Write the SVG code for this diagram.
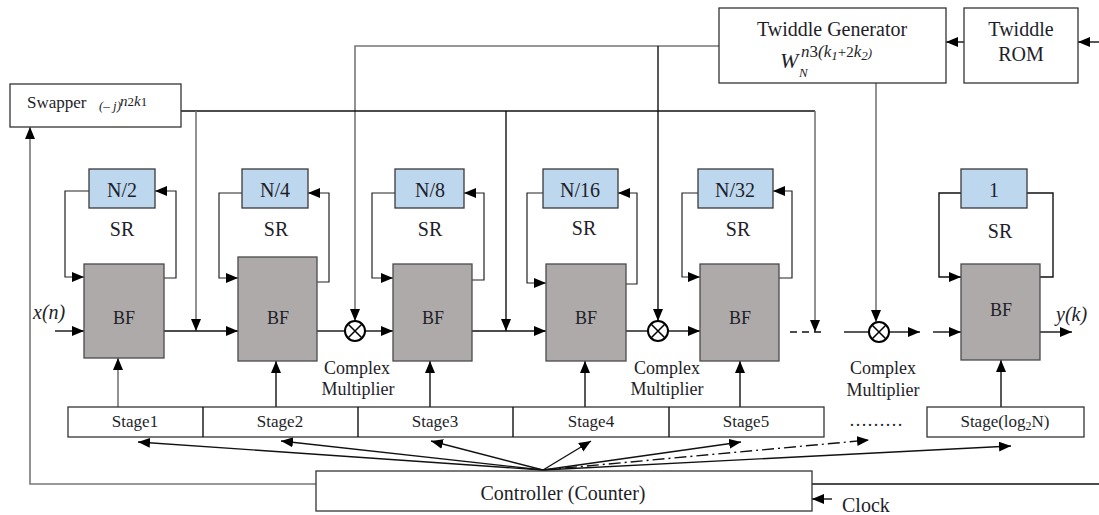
<svg xmlns="http://www.w3.org/2000/svg" width="1099" height="515" viewBox="0 0 1099 515">
<style>
text{font-family:"Liberation Serif","Times New Roman",serif;fill:#1e1e28}
.box{fill:#fff;stroke:#333;stroke-width:1.3}
.sr{fill:#bdd7ee;stroke:#3a3a3a;stroke-width:1.3}
.bf{fill:#aeaaaa;stroke:#4a4a4a;stroke-width:1.3}
.ln{fill:none;stroke:#111;stroke-width:1.4}
.gl{fill:none;stroke:#777;stroke-width:1.6}
.lp{fill:none;stroke:#222;stroke-width:1.2}
.ar{marker-end:url(#ah)}
.t20{font-size:20px}
.t18{font-size:18px}
.t16{font-size:17px}
.it{font-style:italic}
.mul{fill:#fff;stroke:#000;stroke-width:2}
</style>
<defs>
<marker id="ah" markerUnits="userSpaceOnUse" markerWidth="13" markerHeight="11" refX="12" refY="5" orient="auto">
<path d="M0,0 L12,5 L0,10 z" fill="#000"/>
</marker>
</defs>

<g id="connectors">
<line class="ln ar" x1="1099" y1="42" x2="1078" y2="42"/>
<line class="ln ar" x1="964" y1="42" x2="946" y2="42"/>
<polyline class="gl ar" points="719,46 355,46 355,321"/>
<polyline class="ln ar" points="658,46 658,321"/>
<line class="gl ar" x1="876" y1="83" x2="876" y2="322"/>
<polyline class="ln" points="181,111 815,111"/>
<line class="gl ar" x1="196" y1="111" x2="196" y2="331"/>
<line class="ln ar" x1="506" y1="111" x2="506" y2="331"/>
<line class="gl ar" x1="815" y1="111" x2="815" y2="332"/>
<line class="ln ar" x1="55" y1="331" x2="84" y2="331"/>
<line class="ln ar" x1="164" y1="331" x2="238" y2="331"/>
<line class="ln" x1="317" y1="331" x2="345" y2="331"/>
<line class="ln ar" x1="365" y1="331" x2="393" y2="331"/>
<line class="ln ar" x1="472" y1="331" x2="546" y2="331"/>
<line class="ln" x1="626" y1="331" x2="648" y2="331"/>
<line class="ln ar" x1="668" y1="331" x2="700" y2="331"/>
<line class="ln" x1="790" y1="332" x2="826" y2="332" stroke-dasharray="7,5"/>
<line class="ln" x1="844" y1="332" x2="869" y2="332"/>
<line class="ln ar" x1="889" y1="332" x2="920" y2="332"/>
<line class="ln ar" x1="933" y1="332" x2="961" y2="332" stroke-width="1"/>
<line class="ln ar" x1="1040" y1="332" x2="1072" y2="332" stroke-width="1"/>
<polyline class="lp ar" points="89,191 65,191 65,277 84,277"/>
<polyline class="lp ar" points="164,278 176,278 176,191 155,191"/>
<polyline class="lp ar" points="242,193 219,193 219,278 238,278"/>
<polyline class="lp ar" points="317,282 329,282 329,193 308,193"/>
<polyline class="lp ar" points="395,193 372,193 372,278 393,278"/>
<polyline class="lp ar" points="472,280 484,280 484,193 464,193"/>
<polyline class="lp ar" points="543,193 527,193 527,283 546,283"/>
<polyline class="lp ar" points="626,284 637,284 637,193 618,193"/>
<polyline class="lp ar" points="700,193 682,193 682,277 700,277"/>
<polyline class="lp ar" points="779,278 792,278 792,191 773,191"/>
<polyline class="ln ar" points="961,193 939,193 939,277 961,277" stroke-width="2"/>
<polyline class="ln" points="1040,277 1053,277 1053,193 1027,193" stroke-width="2"/>
<line class="gl ar" x1="118" y1="407" x2="118" y2="358"/>
<line class="ln ar" x1="276" y1="407" x2="276" y2="361"/>
<line class="ln ar" x1="430" y1="407" x2="430" y2="361"/>
<line class="ln ar" x1="585" y1="407" x2="585" y2="361"/>
<line class="ln ar" x1="740" y1="407" x2="740" y2="361"/>
<line class="ln ar" x1="1001" y1="407" x2="1001" y2="360"/>
<line class="ln ar" x1="543" y1="470" x2="138" y2="442"/>
<line class="ln ar" x1="543" y1="470" x2="281" y2="441"/>
<line class="ln ar" x1="543" y1="470" x2="431" y2="441"/>
<line class="ln ar" x1="543" y1="470" x2="591" y2="441"/>
<line class="ln ar" x1="543" y1="470" x2="741" y2="442"/>
<line class="ln ar" x1="543" y1="470" x2="869" y2="440" stroke-dasharray="12,4,2,4"/>
<line class="ln ar" x1="543" y1="470" x2="1011" y2="446"/>
<polyline class="gl ar" points="316,484 30,484 30,127"/>
<line class="ln" x1="812" y1="484" x2="1099" y2="484"/>
<line class="ln ar" x1="832" y1="499" x2="812" y2="499" stroke-width="1"/>
</g>

<g id="twiddle-generator">
<rect class="box" x="719" y="8" width="227" height="75"/>
<text class="t20" x="832" y="36" text-anchor="middle">Twiddle Generator</text>
<text class="it" x="780" y="68" font-size="22">W</text>
<text class="it" x="799" y="77" font-size="13">N</text>
<text class="it" x="801" y="57" font-size="17">n<tspan font-style="normal">3</tspan>(k<tspan font-size="13" dy="3">1</tspan><tspan font-size="15" dy="-3" font-style="normal">+2</tspan>k<tspan font-size="13" dy="3">2</tspan><tspan font-size="13" dy="-3">)</tspan></text>
</g>
<g id="twiddle-rom">
<rect class="box" x="964" y="8" width="114" height="75"/>
<text class="t20" x="1021" y="36" text-anchor="middle">Twiddle</text>
<text class="t20" x="1021" y="61" text-anchor="middle">ROM</text>
</g>
<g id="swapper">
<rect class="box" x="10" y="84" width="171" height="43"/>
<text x="27" y="108" font-size="17">Swapper</text>
<text class="it" x="99" y="110" font-size="13">(– j)<tspan x="120" y="106" font-size="15">n</tspan><tspan font-size="13" font-style="normal">2</tspan><tspan font-size="15">k</tspan><tspan font-size="13" font-style="normal">1</tspan></text>
</g>

<g id="sr1"><rect class="sr" x="89" y="169" width="66" height="39"/><text class="t20" x="122" y="197" text-anchor="middle">N/2</text><text class="t20" x="122" y="236" text-anchor="middle">SR</text></g>
<g id="sr2"><rect class="sr" x="242" y="169" width="66" height="39"/><text class="t20" x="275" y="197" text-anchor="middle">N/4</text><text class="t20" x="276" y="236" text-anchor="middle">SR</text></g>
<g id="sr3"><rect class="sr" x="395" y="169" width="69" height="39"/><text class="t20" x="430" y="197" text-anchor="middle">N/8</text><text class="t20" x="430" y="236" text-anchor="middle">SR</text></g>
<g id="sr4"><rect class="sr" x="543" y="169" width="75" height="39"/><text class="t20" x="580" y="197" text-anchor="middle">N/16</text><text class="t20" x="584" y="235" text-anchor="middle">SR</text></g>
<g id="sr5"><rect class="sr" x="698" y="169" width="75" height="39"/><text class="t20" x="735" y="197" text-anchor="middle">N/32</text><text class="t20" x="738" y="236" text-anchor="middle">SR</text></g>
<g id="sr6"><rect class="sr" x="961" y="169" width="66" height="39"/><text class="t20" x="994" y="197" text-anchor="middle">1</text><text class="t20" x="1000" y="238" text-anchor="middle">SR</text></g>

<g id="bf1"><rect class="bf" x="84" y="264" width="80" height="94"/><text class="t18" x="124" y="324" text-anchor="middle">BF</text></g>
<g id="bf2"><rect class="bf" x="238" y="257" width="79" height="104"/><text class="t18" x="278" y="324" text-anchor="middle">BF</text></g>
<g id="bf3"><rect class="bf" x="393" y="264" width="79" height="97"/><text class="t18" x="433" y="324" text-anchor="middle">BF</text></g>
<g id="bf4"><rect class="bf" x="546" y="264" width="80" height="97"/><text class="t18" x="586" y="324" text-anchor="middle">BF</text></g>
<g id="bf5"><rect class="bf" x="700" y="264" width="79" height="97"/><text class="t18" x="740" y="324" text-anchor="middle">BF</text></g>
<g id="bf6"><rect class="bf" x="961" y="264" width="79" height="96"/><text class="t18" x="1001" y="316" text-anchor="middle">BF</text></g>

<g id="io-labels">
<text class="it" x="33" y="319" font-size="20" fill="#2a3060">x(n)</text>
<text class="it" x="1056" y="321" font-size="20" fill="#2a3060">y(k)</text>
</g>

<g id="mult1"><circle class="mul" cx="355" cy="331" r="10"/><path d="M348,324 L362,338 M362,324 L348,338" stroke="#000" stroke-width="1.5"/>
<text class="t18" x="357" y="374" text-anchor="middle">Complex</text><text class="t18" x="358" y="395" text-anchor="middle">Multiplier</text></g>
<g id="mult2"><circle class="mul" cx="658" cy="331" r="10"/><path d="M651,324 L665,338 M665,324 L651,338" stroke="#000" stroke-width="1.5"/>
<text class="t18" x="667" y="374" text-anchor="middle">Complex</text><text class="t18" x="667" y="395" text-anchor="middle">Multiplier</text></g>
<g id="mult3"><circle class="mul" cx="879" cy="332" r="10"/><path d="M872,325 L886,339 M886,325 L872,339" stroke="#000" stroke-width="1.5"/>
<text class="t18" x="883" y="374" text-anchor="middle">Complex</text><text class="t18" x="883" y="396" text-anchor="middle">Multiplier</text></g>

<g id="stages">
<rect class="box" x="68" y="407" width="756" height="30"/>
<line class="ln" x1="203" y1="407" x2="203" y2="437" stroke-width="1"/>
<line class="ln" x1="358" y1="407" x2="358" y2="437" stroke-width="1"/>
<line class="ln" x1="513" y1="407" x2="513" y2="437" stroke-width="1"/>
<line class="ln" x1="669" y1="407" x2="669" y2="437" stroke-width="1"/>
<text class="t16" x="135" y="427" text-anchor="middle">Stage1</text>
<text class="t16" x="280" y="427" text-anchor="middle">Stage2</text>
<text class="t16" x="435" y="427" text-anchor="middle">Stage3</text>
<text class="t16" x="591" y="427" text-anchor="middle">Stage4</text>
<text class="t16" x="746" y="427" text-anchor="middle">Stage5</text>
<text x="876" y="426" font-size="18" text-anchor="middle">………</text>
<rect class="box" x="927" y="407" width="157" height="30"/>
<text class="t16" x="1005" y="427" text-anchor="middle">Stage(log<tspan font-size="12" dy="3">2</tspan><tspan dy="-3">N)</tspan></text>
</g>

<g id="controller">
<rect class="box" x="316" y="471" width="496" height="40"/>
<text class="t20" x="563" y="500" text-anchor="middle">Controller (Counter)</text>
</g>
<g id="clock"><text class="t20" x="842" y="512">Clock</text></g>
</svg>
